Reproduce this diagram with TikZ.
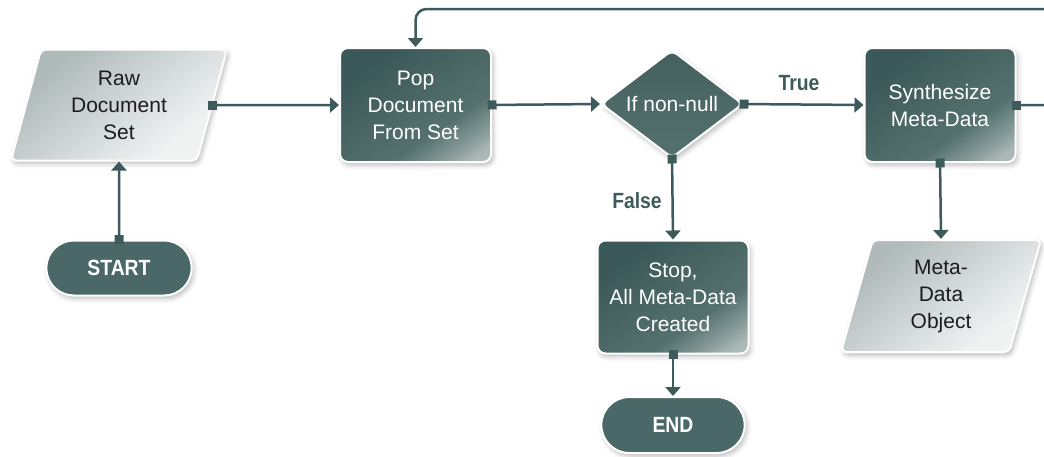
\documentclass[tikz,border=0pt]{standalone}
\usepackage{fontspec}
\setmainfont{Liberation Sans}
\newfontfamily\tagfont[FakeStretch=0.88]{Liberation Sans}
\usetikzlibrary{arrows.meta,shapes.geometric,shapes.misc,shadows.blur}

\definecolor{flowink}{HTML}{3E5B5B}
\definecolor{boxtop}{HTML}{3C5959}
\definecolor{boxbot}{HTML}{55716F}
\definecolor{boxhl}{HTML}{B3C0BE}
\definecolor{termfill}{HTML}{4B6868}
\definecolor{paperA}{HTML}{B0BABA}
\definecolor{paperB}{HTML}{F0F2F2}
\definecolor{paperink}{HTML}{1C1C1C}

% dark process boxes: deep teal on top, a soft light glint in the lower right corner
\pgfdeclareverticalshading{boxshade}{100bp}{%
  color(0bp)=(boxhl); color(20bp)=(boxhl!90!boxbot); color(26bp)=(boxhl!55!boxbot);
  color(37bp)=(boxbot); color(72bp)=(boxtop); color(100bp)=(boxtop)}
% light data shapes: grey in the upper left, almost white in the lower right
\pgfdeclareverticalshading{papershade}{100bp}{%
  color(0bp)=(paperB); color(30bp)=(paperB); color(72bp)=(paperA); color(100bp)=(paperA)}

\tikzset{
  common/.style={draw=white, line width=2pt,
    blur shadow={shadow xshift=2pt, shadow yshift=-3pt, shadow blur radius=5pt, shadow opacity=28}},
  bodytext/.style={font=\fontsize{21}{27}\selectfont, align=center},
  procbox/.style={common, bodytext, rectangle, rounded corners=8pt,
    minimum width=151pt, minimum height=114pt, text=white,
    shading=boxshade, shading angle=35},
  datashape/.style={common, bodytext, trapezium, trapezium left angle=67.5,
    trapezium right angle=112.5, trapezium stretches body, rounded corners=5pt,
    minimum width=216pt, minimum height=111pt, inner sep=2pt, text=paperink,
    shading=papershade, shading angle=40},
  termshape/.style={common, rounded rectangle, fill=termfill,
    minimum width=152pt, minimum height=55pt, text=white,
    font=\tagfont\bfseries\fontsize{22}{26}\selectfont},
  decision/.style={common, bodytext, diamond, inner sep=0pt,
    minimum width=142pt, minimum height=108pt, rounded corners=6pt, text=white,
    top color=boxtop!70!boxbot, bottom color=boxbot},
  flow/.style={draw=flowink, line width=2.5pt,
    {Square[length=9pt,width=9pt]}-{Triangle[length=9pt,width=15pt]}},
  branch/.style={text=flowink, font=\tagfont\bfseries\fontsize{22}{26}\selectfont}
}

\begin{document}
\begin{tikzpicture}[x=1pt,y=-1pt]
\useasboundingbox (0,0) rectangle (1044,456);
\clip (0,0) rectangle (1044,456);

% shapes
\node[datashape] (raw)   at (119,105) {Raw\\Document\\Set};
\node[termshape] (start) at (119,268) {START};
\node[procbox]   (pop)   at (415.5,105) {Pop\\Document\\From Set};
\node[decision]  (cond)  at (672,104) {If non-null};
\node[procbox]   (synth) at (940,105) {Synthesize\\Meta-Data};
\node[procbox, minimum height=113pt] (stop) at (673,297) {Stop,\\All Meta-Data\\Created};
\node[termshape, minimum width=150pt, minimum height=56pt] (end) at (673,425) {END};
\node[datashape, minimum width=200pt, minimum height=112pt] (meta) at (941,296) {Meta-\\Data\\Object};

% branch labels
\node[branch] (truelbl)  at (799,83)  {True};
\node[branch] (falselbl) at (637,201) {False};

% connectors
\draw[flow] ([yshift=-4.5pt]start.north) -- (raw.south);
\draw[flow] ([xshift=-4.5pt]raw.east) -- (pop.west);
\draw[flow] ([xshift=-4.5pt]pop.east) -- (cond.west);
\draw[flow] ([xshift=-4.5pt]cond.east) -- (synth.west);
\draw[flow] ([yshift=4.5pt]cond.south) -- (stop.north);
\draw[flow] ([yshift=4.5pt]stop.south) -- (end.north);
\draw[flow] ([yshift=4.5pt]synth.south) -- (meta.north);

% loop back to the document set
\coordinate (loopR) at (1075,9);
\draw[flow, rounded corners=11pt] ([xshift=-4.5pt]synth.east) -| (loopR) -| (pop.north);
\end{tikzpicture}
\end{document}
